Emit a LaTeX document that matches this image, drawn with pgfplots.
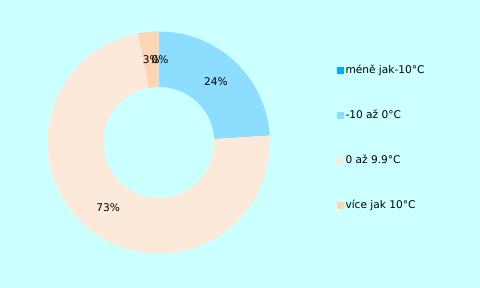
\documentclass[border=0pt]{standalone}
\usepackage{fontspec}
\setmainfont{DejaVu Sans}
\usepackage{pgfplots}
\pgfplotsset{compat=1.18}
\definecolor{bgc}{HTML}{CCFFFF}
\definecolor{cA}{HTML}{00B0F0}
\definecolor{cB}{HTML}{8CDDFF}
\definecolor{cC}{HTML}{FDE9D9}
\definecolor{cD}{HTML}{FCD5B5}
% sector between cumulative percentages #1 and #2 (outer arc, radial edge, inner arc)
\newcommand{\sector}[3]{%
\addplot[fill=#3, draw=none, domain=0:3, samples=301, variable=\t]
 ({159+(111-55.5*min(max(\t-1,0),1))*sin(3.6*(#1+(#2-#1)*min(\t,1)-(#2-#1)*max(\t-2,0)))},
  {145.5+(111-55.5*min(max(\t-1,0),1))*cos(3.6*(#1+(#2-#1)*min(\t,1)-(#2-#1)*max(\t-2,0)))});}
\begin{document}
\begin{tikzpicture}[font=\fontsize{10.6bp}{12bp}\selectfont]
\fill[bgc] (0,0) rectangle (480bp,288bp);
\begin{axis}[
  at={(0,0)}, anchor=south west,
  width=480bp, height=288bp, scale only axis,
  xmin=0, xmax=480, ymin=0, ymax=288,
  hide axis, clip=false,
  legend image code/.code={\fill[#1] (0bp,0bp) rectangle (7bp,7bp);},
  legend style={at={(axis cs:337,222)}, anchor=north west, draw=none, fill=none,
    inner sep=0pt, outer sep=0pt, row sep=34.5bp, column sep=1.5bp,
    nodes={inner sep=0pt, text height=8bp, text depth=2.5bp, anchor=base west}},
  legend cell align=left,
]
\addlegendimage{fill=cA, draw=none}
\addlegendentry{méně jak-10°C}
\sector{0}{24}{cB}
\addlegendentry{-10 až 0°C}
\sector{24}{97}{cC}
\addlegendentry{0 až 9.9°C}
\sector{97}{100}{cD}
\addlegendentry{více jak 10°C}
\node at (axis cs:151.2,228.1) {3\%};
\node at (axis cs:160,228.5) {0\%};
\node at (axis cs:215.8,206.0) {24\%};
\node at (axis cs:108.1,79.9) {73\%};
\end{axis}
\end{tikzpicture}
\end{document}
